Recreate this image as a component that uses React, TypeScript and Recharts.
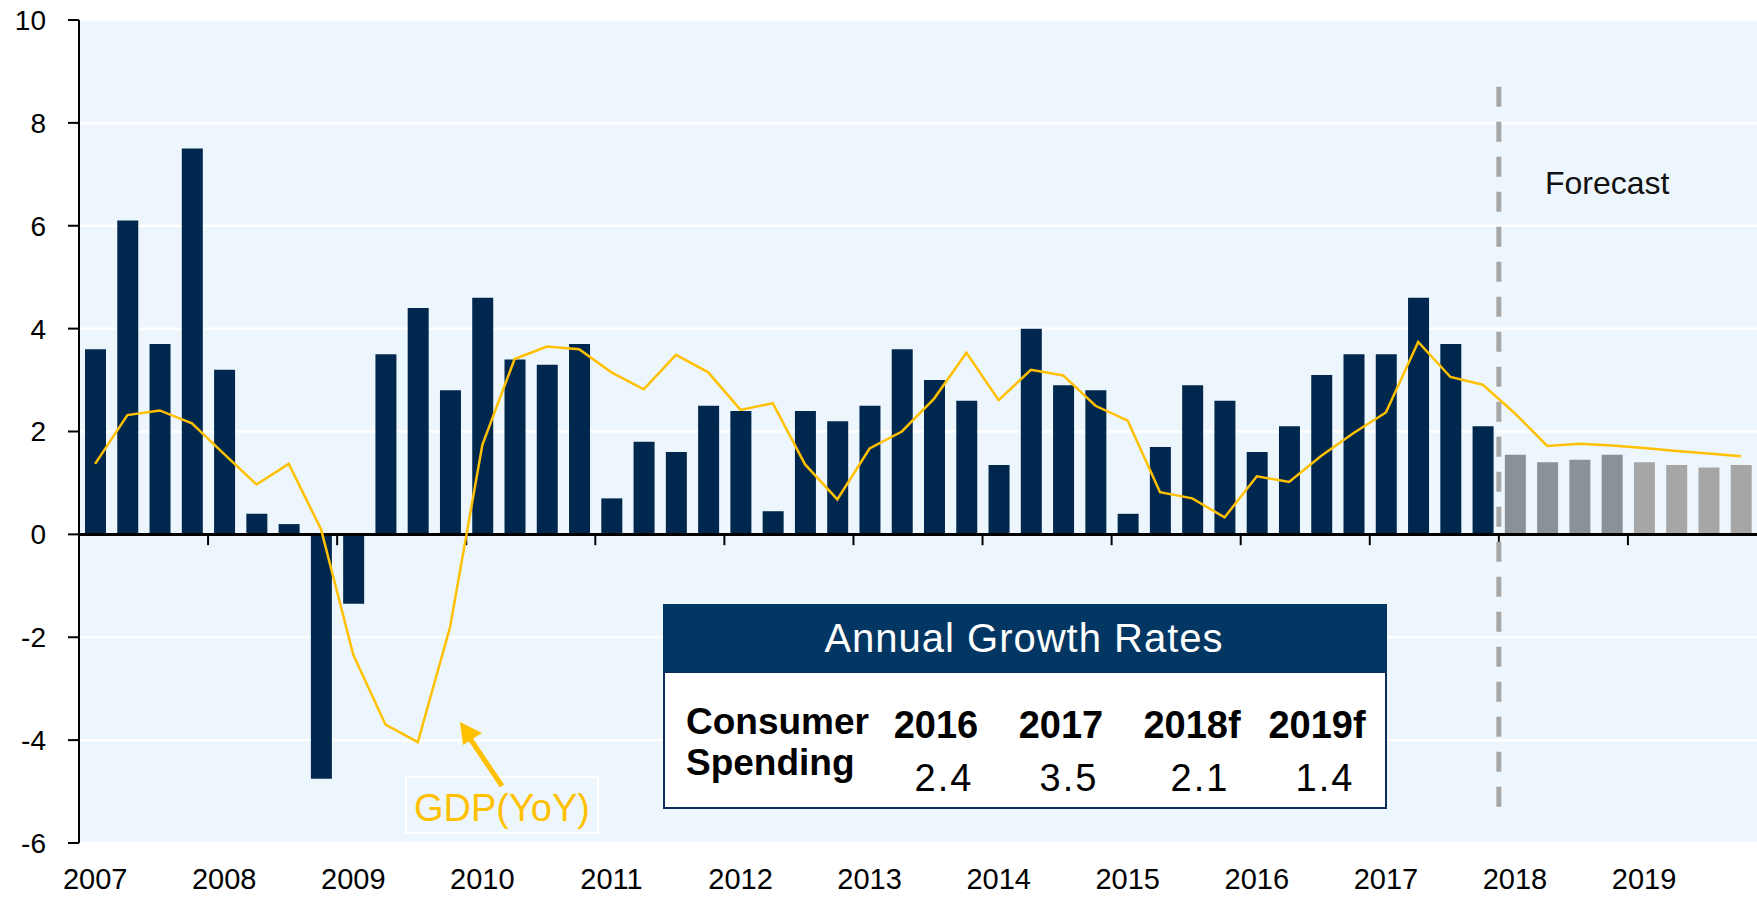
import React from 'react'
import {
  ComposedChart,
  Bar,
  Line,
  XAxis,
  YAxis,
  CartesianGrid,
  ReferenceLine,
  Cell
} from 'recharts'

const years = [2007, 2008, 2009, 2010, 2011, 2012, 2013, 2014, 2015, 2016, 2017, 2018, 2019]
const quarterNames = ['Q1', 'Q2', 'Q3', 'Q4']

// consumer spending, quarterly % change (annualised)
const consumerSpending = [
  3.6, 6.1, 3.7, 7.5,
  3.2, 0.4, 0.2, -4.75,
  -1.35, 3.5, 4.4, 2.8,
  4.6, 3.4, 3.3, 3.7,
  0.7, 1.8, 1.6, 2.5,
  2.4, 0.45, 2.4, 2.2,
  2.5, 3.6, 3.0, 2.6,
  1.35, 4.0, 2.9, 2.8,
  0.4, 1.7, 2.9, 2.6,
  1.6, 2.1, 3.1, 3.5,
  3.5, 4.6, 3.7, 2.1,
  1.55, 1.4, 1.45, 1.55,
  1.4, 1.35, 1.3, 1.35
]

// GDP year over year
const gdpYoY = [
  1.37, 2.32, 2.41, 2.16,
  1.56, 0.97, 1.37, 0.1,
  -2.34, -3.7, -4.04, -1.8,
  1.74, 3.41, 3.65, 3.6,
  3.15, 2.82, 3.49, 3.15,
  2.42, 2.55, 1.36, 0.68,
  1.67, 2.0, 2.64, 3.53,
  2.61, 3.2, 3.09, 2.5,
  2.21, 0.82, 0.7, 0.33,
  1.13, 1.02, 1.53, 1.97,
  2.37, 3.74, 3.06, 2.91,
  2.35, 1.72, 1.76, 1.73,
  1.68, 1.62, 1.57, 1.52
]

const yTicks = [-6, -4, -2, 0, 2, 4, 6, 8, 10]
const forecastStart = '2018Q1'
const tableHeaders = ['2016', '2017', '2018f', '2019f']
const tableValues = ['2.4', '3.5', '2.1', '1.4']

const quarters = years.flatMap((y) => quarterNames.map((q) => `${y}${q}`))
const data = quarters.map((q, i) => ({
  q,
  year: Number(q.slice(0, 4)),
  spending: consumerSpending[i],
  gdp: gdpYoY[i]
}))

const FONT = '"Liberation Sans", Arial, sans-serif'
const NAVY = '#00284F'
const YELLOW = '#FFC000'

const barColor = (year: number) => {
  if (year === 2018) return '#8B9199'
  if (year === 2019) return '#A6A6A6'
  return NAVY
}

const YearTick = (props: any) => {
  const { x, y, payload } = props
  if (!String(payload.value).endsWith('Q1')) return null
  return (
    <text x={x} y={y + 46} textAnchor="middle" fill="#000" fontSize={29} fontFamily={FONT}>
      {String(payload.value).slice(0, 4)}
    </text>
  )
}

const tableCols = [936, 1061, 1192, 1317]

const Overlay = () => (
  <svg width={1757} height={903} style={{ position: 'absolute', left: 0, top: 0, pointerEvents: 'none' }}>
    {/* forecast label */}
    <text x={1545} y={194} fontSize={32} fontFamily={FONT} fill="#111">Forecast</text>

    {/* GDP annotation */}
    <rect x={406} y={777} width={192} height={56} fill="none" stroke="#fff" strokeWidth={2} />
    <text x={502} y={821} textAnchor="middle" fontSize={38} fontFamily={FONT} fill={YELLOW}>GDP(YoY)</text>
    <line x1={502} y1={786} x2={469} y2={737} stroke={YELLOW} strokeWidth={5} />
    <polygon points="460,722 482,733 463,745" fill={YELLOW} />

    {/* annual growth table */}
    <rect x={664} y={672} width={722} height={136} fill="#fff" stroke="#0B2E5C" strokeWidth={2} />
    <rect x={663} y={604} width={724} height={68} fill="#033763" />
    <text x={1024} y={652} textAnchor="middle" fontSize={40} letterSpacing={1} fontFamily={FONT} fill="#fff">
      Annual Growth Rates
    </text>
    <text x={686} y={734} fontSize={37} fontWeight="bold" fontFamily={FONT} fill="#000">Consumer</text>
    <text x={686} y={775} fontSize={37} fontWeight="bold" fontFamily={FONT} fill="#000">Spending</text>
    {tableHeaders.map((h, i) => (
      <text key={h} x={tableCols[i]} y={738} textAnchor="middle" fontSize={38} fontWeight="bold" fontFamily={FONT} fill="#000">
        {h}
      </text>
    ))}
    {tableValues.map((v, i) => (
      <text key={v + i} x={tableCols[i] + 8} y={791} textAnchor="middle" fontSize={38} letterSpacing={2} fontFamily={FONT} fill="#000">
        {v}
      </text>
    ))}
  </svg>
)

export default function App() {
  return (
    <div style={{ position: 'absolute', left: 0, top: 0, width: 1757, height: 903, background: '#fff' }}>
      <ComposedChart
        width={1757}
        height={903}
        data={data}
        margin={{ top: 20, right: 0, bottom: 0, left: 0 }}
        barSize={21}
      >
        <CartesianGrid vertical={false} fill="#EEF6FD" stroke="#fff" strokeWidth={2.5} />
        <XAxis
          dataKey="q"
          height={60}
          interval={0}
          axisLine={false}
          tickLine={false}
          tickSize={0}
          tickMargin={0}
          tick={<YearTick />}
        />
        <YAxis
          domain={[-6, 10]}
          ticks={yTicks}
          interval={0}
          width={79}
          tickSize={11}
          tickMargin={22}
          axisLine={{ stroke: '#000', strokeWidth: 2 }}
          tickLine={{ stroke: '#000', strokeWidth: 2 }}
          tick={{ fill: '#000', fontSize: 28, fontFamily: FONT }}
        />
        <Bar dataKey="spending" isAnimationActive={false}>
          {data.map((d) => (
            <Cell key={d.q} fill={barColor(d.year)} />
          ))}
        </Bar>
        <ReferenceLine y={0} stroke="#000" strokeWidth={3} />
        {years.slice(1).map((y) => (
          <ReferenceLine
            key={y}
            segment={[{ x: `${y}Q1`, y: 0 }, { x: `${y}Q1`, y: -0.21 }]}
            position="start"
            stroke="#000"
            strokeWidth={2}
          />
        ))}
        <ReferenceLine
          segment={[{ x: forecastStart, y: 8.7 }, { x: forecastStart, y: -5.5 }]}
          position="start"
          stroke="#A6A6A6"
          strokeWidth={5}
          strokeDasharray="20 15"
        />
        <Line
          type="linear"
          dataKey="gdp"
          stroke={YELLOW}
          strokeWidth={2.5}
          dot={false}
          activeDot={false}
          isAnimationActive={false}
        />
      </ComposedChart>
      <Overlay />
    </div>
  )
}
